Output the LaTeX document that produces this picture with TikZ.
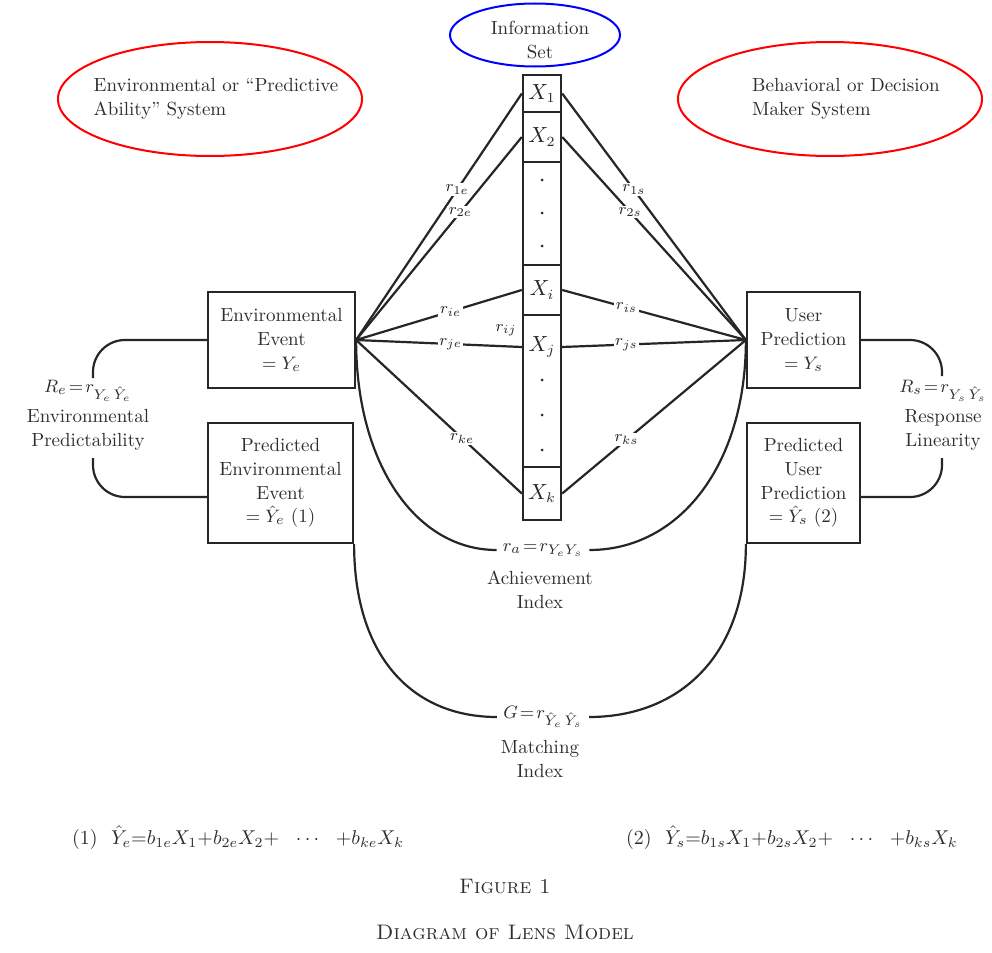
\documentclass[tikz,border=0pt]{standalone}
\usepackage{amsmath}
\usetikzlibrary{calc,shapes.geometric}
\begin{document}
\begin{tikzpicture}[x=0.5pt,y=-0.5pt,
  txt/.style={font=\fontsize{9.5}{11.8}\selectfont, text=black!82, align=center, inner sep=1pt},
  box/.style={txt, draw=black!85, line width=1.1pt, rectangle, inner sep=2pt},
  cell/.style={draw=black!85, line width=1.2pt, rectangle, minimum width=19pt, inner sep=0pt,
    font=\fontsize{10.5}{12}\selectfont, text=black!85},
  rlab/.style={fill=white, inner sep=0.8pt, font=\fontsize{8.5}{9}\selectfont, text=black!85},
  conn/.style={draw=black!85, line width=1.1pt},
  oval/.style={ellipse, line width=1pt, inner sep=0pt}
]
\useasboundingbox[fill=white] (0,0) rectangle (992,953);

% ellipses
\node[oval, draw=red, minimum width=152pt, minimum height=57pt] (envsys) at (210,99) {};
\node[txt, align=left] (envsyst) at (216,99) {Environmental or “Predictive\\Ability” System};
\node[oval, draw=red, minimum width=152pt, minimum height=57pt] (decsys) at (830,99) {};
\node[txt, align=left] (decsyst) at (846,99) {Behavioral or Decision\\Maker System};
\node[oval, draw=blue, minimum width=85pt, minimum height=31.5pt] (infoset) at (535,35) {};
\node[txt] (infot) at (540,40) {Information\\Set};

% cue column
\node[cell, minimum height=18.5pt] (x1) at (542,93.5) {$X_1$};
\node[cell, minimum height=25pt] (x2) at (542,137) {$X_2$};
\node[cell, minimum height=51.5pt] (xdots) at (542,213.5) {};
\node[cell, minimum height=25pt] (xi) at (542,290) {$X_i$};
\node[cell, minimum height=76pt] (xj) at (542,391) {};
\node[cell, draw=none] (xjt) at (542,347) {$X_j$};
\node[cell, minimum height=26.5pt] (xk) at (542,493.5) {$X_k$};
\foreach \yy in {180,213,246,380,415,450} \fill[black!85] (542,\yy) circle (1.5);

% boxes
\node[box, minimum width=73.5pt, minimum height=48pt] (ee) at (281.5,340) {Environmental\\Event\\$=Y_e$};
\node[box, minimum width=72.5pt, minimum height=60pt] (pe) at (280.5,483) {Predicted\\Environmental\\Event\\$=\hat Y_e$ (1)};
\node[box, minimum width=56.5pt, minimum height=48pt] (us) at (803.5,340) {User\\Prediction\\$=Y_s$};
\node[box, minimum width=56.5pt, minimum height=60pt] (ps) at (803.5,483) {Predicted\\User\\Prediction\\$=\hat Y_s$ (2)};

% fan lines, environment side
\draw[conn] (ee.east) -- node[rlab, pos=0.61] (r1e) {$r_{1e}$} (x1.west);
\draw[conn] (ee.east) -- node[rlab, pos=0.63] (r2e) {$r_{2e}$} (x2.west);
\draw[conn] (ee.east) -- node[rlab, pos=0.57] (rie) {$r_{ie}$} (xi.west);
\draw[conn] (ee.east) -- node[rlab, pos=0.57] (rje) {$r_{je}$} (xj.west |- xjt);
\draw[conn] (ee.east) -- node[rlab, pos=0.64] (rke) {$r_{ke}$} (xk.west);
% fan lines, subject side
\draw[conn] (us.west) -- node[rlab, pos=0.61] (r1s) {$r_{1s}$} (x1.east);
\draw[conn] (us.west) -- node[rlab, pos=0.63] (r2s) {$r_{2s}$} (x2.east);
\draw[conn] (us.west) -- node[rlab, pos=0.65] (ris) {$r_{is}$} (xi.east);
\draw[conn] (us.west) -- node[rlab, pos=0.65] (rjs) {$r_{js}$} (xj.east |- xjt);
\draw[conn] (us.west) -- node[rlab, pos=0.65] (rks) {$r_{ks}$} (xk.east);
\node[rlab, fill=none] (rij) at (506,330) {$r_{ij}$};

% brackets
\draw[conn, rounded corners=16pt] (ee.west) -| (93,378);
\draw[conn, rounded corners=16pt] (93,458) |- ($(pe.west)+(0,14)$);
\node[txt, inner sep=0pt] (reform) at (88,391) {$R_e\!=\!r_{Y_e\,\hat Y_e}$};
\node[txt] (retxt) at (88,430) {Environmental\\Predictability};
\draw[conn, rounded corners=16pt] (us.east) -| (942,376);
\draw[conn, rounded corners=16pt] (942,458) |- ($(ps.east)+(0,14)$);
\node[txt, inner sep=0pt] (rsform) at (943,391) {$R_s\!=\!r_{Y_s\,\hat Y_s}$};
\node[txt] (rstxt) at (943,430) {Response\\Linearity};

% achievement
\node[txt, inner xsep=3pt, inner ysep=0pt] (ra) at (543,550) {$r_a\!=\!r_{Y_eY_s}$};
\node[txt] (acht) at (540,590) {Achievement\\Index};
\draw[conn] (ee.east) .. controls +(0,125) and +(-80,0) .. (ra.west);
\draw[conn] (ra.east) .. controls +(90,0) and +(0,125) .. (us.west);

% matching
\node[txt, inner xsep=3pt, inner ysep=0pt] (gm) at (543,717) {$G\!=\!r_{\hat Y_e\,\hat Y_s}$};
\node[txt] (mt) at (540,759) {Matching\\Index};
\draw[conn] (pe.south east) .. controls +(0,112) and +(-85,0) .. (gm.west);
\draw[conn] (gm.east) .. controls +(90,0) and +(0,112) .. (ps.south west);

% equations
\node[txt, font=\fontsize{10}{12}\selectfont] (eq1) at (238,838) {(1)\ \ $\hat Y_e{=}b_{1e}X_1{+}b_{2e}X_2{+}\ \ \cdots\ \ {+}b_{ke}X_k$};
\node[txt, font=\fontsize{10}{12}\selectfont] (eq2) at (792,838) {(2)\ \ $\hat Y_s{=}b_{1s}X_1{+}b_{2s}X_2{+}\ \ \cdots\ \ {+}b_{ks}X_k$};

% caption
\node[txt, font=\fontsize{10.5}{12}\selectfont] (fig) at (505,887) {\textsc{Figure 1}};
\node[txt, font=\fontsize{10.5}{12}\selectfont] (cap) at (505,932) {\textsc{Diagram of Lens Model}};
\end{tikzpicture}
\end{document}
